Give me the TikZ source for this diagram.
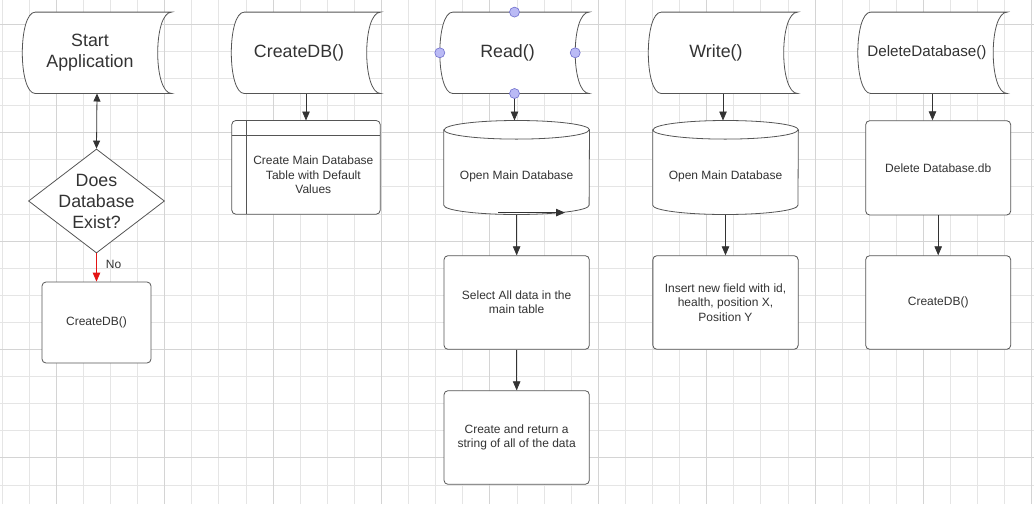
\documentclass[tikz,border=0pt]{standalone}
\usepackage{fontspec}
\setmainfont{Liberation Sans}
\usetikzlibrary{arrows.meta,shapes.geometric,calc}
\definecolor{lineC}{RGB}{85,85,85}
\definecolor{textC}{RGB}{51,51,51}
\definecolor{gridMinor}{RGB}{229,229,229}
\definecolor{gridMajor}{RGB}{212,212,212}
\definecolor{noRed}{RGB}{228,20,20}
\definecolor{handleFill}{RGB}{186,186,245}
\definecolor{handleDraw}{RGB}{110,110,205}
\pgfdeclarelayer{gridlayer}
\pgfdeclarelayer{shapelayer}
\pgfsetlayers{gridlayer,shapelayer,main}
\newcommand{\sdoutline}[1]{%
  \draw[sdline] ([xshift=13pt]#1.north west) -- ([xshift=14pt]#1.north east)
    .. controls ([xshift=-4.67pt]#1.north east) and ([xshift=-4.67pt]#1.south east) .. ([xshift=14pt]#1.south east)
    -- ([xshift=13pt]#1.south west)
    .. controls ([xshift=-4.33pt]#1.south west) and ([xshift=-4.33pt]#1.north west) .. cycle;%
}
\newcommand{\cyloutline}[1]{%
  \draw[sdline] ([yshift=9.3pt]#1.north west) -- ([yshift=9.3pt]#1.south west)
    arc[start angle=180, end angle=360, x radius=72.65pt, y radius=9.3pt]
    -- ([yshift=9.3pt]#1.north east)
    arc[start angle=0, end angle=180, x radius=72.65pt, y radius=9.3pt] -- cycle;
  \draw[sdline, fill=none] ([yshift=9.3pt]#1.north west)
    arc[start angle=180, end angle=360, x radius=72.65pt, y radius=9.3pt];%
}
\begin{document}
\begin{tikzpicture}[x=1pt,y=-1pt,
  bigfont/.style={font=\fontsize{17.8}{21}\selectfont, text=textC},
  midfont/.style={font=\fontsize{15.2}{18}\selectfont, text=textC},
  smallfont/.style={font=\fontsize{12}{14.3}\selectfont, text=textC},
  sdnode/.style={bigfont, inner sep=0pt, minimum width=135pt, minimum height=81pt, align=center},
  sdline/.style={draw=lineC, line width=0.8pt, fill=white},
  procbox/.style={smallfont, draw=lineC, line width=0.8pt, fill=white, rounded corners=4pt, inner sep=0pt, align=center},
  textregion/.style={smallfont, inner sep=0pt, align=center},
  decision/.style={diamond, draw=lineC, line width=0.8pt, fill=white, minimum width=136pt, minimum height=104pt, inner sep=0pt},
  conn/.style={draw=textC, line width=0.8pt, -{Triangle[length=9pt,width=7.5pt]}},
  dconn/.style={draw=textC, line width=0.8pt, {Triangle[length=8pt,width=7pt]}-{Triangle[length=8pt,width=7pt]}},
  redconn/.style={draw=noRed, line width=0.9pt, -{Triangle[length=9pt,width=7.5pt]}},
  handle/.style={circle, fill=handleFill, draw=handleDraw, line width=0.6pt, minimum size=10pt, inner sep=0pt},
  gminor/.style={draw=gridMinor, line width=0.8pt},
  gmajor/.style={draw=gridMajor, line width=0.8pt}
]
\useasboundingbox (0,0) rectangle (1034,504);
\begin{pgfonlayer}{gridlayer}
  \fill[white] (0,0) rectangle (1034,504);
  \foreach \k in {0,...,38} {\draw[gminor] ({2+27.1*\k},0) -- ({2+27.1*\k},504);}
  \foreach \k in {0,...,17} {\draw[gminor] (0,{24.2+27.1*\k}) -- (1034,{24.2+27.1*\k});}
  \foreach \x in {56.2,164.6,273,381.4,489.8,598.2,706.6,815,923.4,1031.8} {\draw[gmajor] (\x,0) -- (\x,504);}
  \foreach \y in {24.2,132.6,241,349.4,457.8} {\draw[gmajor] (0,\y) -- (1034,\y);}
\end{pgfonlayer}

% top row: stored-data shapes
\node[sdnode] (start) at (90,52.8) {Start\\Application};
\node[sdnode] (cdb) at (299,52.8) {CreateDB()};
\node[sdnode] (read) at (507.5,52.8) {Read()};
\node[sdnode] (write) at (716,52.8) {Write()};
\node[sdnode, midfont] (del) at (925.5,52.8) {\hspace*{3pt}DeleteDatabase()};
\coordinate (startB) at ([xshift=7pt]start.south);
\coordinate (cdbB) at ([xshift=7pt]cdb.south);
\coordinate (readB) at ([xshift=7pt]read.south);
\coordinate (writeB) at ([xshift=7pt]write.south);
\coordinate (delB) at ([xshift=7pt]del.south);
\begin{pgfonlayer}{shapelayer}
  \sdoutline{start}
  \sdoutline{cdb}
  \sdoutline{read}
  \sdoutline{write}
  \sdoutline{del}
\end{pgfonlayer}

% column 1
\node[decision] (q) at (96.5,201) {};
\node[bigfont, align=center, inner sep=0pt] (qt) at (q.center) {Does\\Database\\Exist?};
\node[procbox, minimum width=109pt, minimum height=81pt] (cdb1) at (96.5,322.5) {CreateDB()};
\draw[dconn] (startB) -- (q.north);
\draw[redconn] (q.south) -- (cdb1.north)
  node[pos=0.38, anchor=west, inner sep=0pt, xshift=9pt, smallfont] (nolabel) {No};

% column 2: internal storage
\node[textregion, minimum width=133.3pt, minimum height=78.3pt] (cdbt) at (313.35,174.85) {Create Main Database\\Table with Default\\Values};
\coordinate (cdbtTop) at ([yshift=15pt]cdbt.north);
\begin{pgfonlayer}{shapelayer}
  \draw[sdline, rounded corners=4pt] ([xshift=-14.7pt,yshift=15pt]cdbt.north west) rectangle (cdbt.south east);
  \draw[draw=lineC, line width=0.8pt] ([xshift=-14.7pt]cdbt.north west) -- (cdbt.north east);
  \draw[draw=lineC, line width=0.8pt] ([yshift=15pt]cdbt.north west) -- (cdbt.south west);
\end{pgfonlayer}
\draw[conn] (cdbB) -- (cdbB |- cdbtTop);

% column 3: Read
\node[textregion, minimum width=145.3pt, minimum height=75pt] (rdb) at (516.65,176.8) {Open Main Database};
\coordinate (rdbTop) at ([yshift=18.6pt]rdb.north);
\begin{pgfonlayer}{shapelayer}
  \cyloutline{rdb}
\end{pgfonlayer}
\node[procbox, minimum width=145.3pt, minimum height=93.6pt] (sel) at (516.65,302.5) {Select All data in the\\main table};
\node[procbox, minimum width=145.3pt, minimum height=93.6pt] (ret) at (516.65,437.5) {Create and return a\\string of all of the data};
\coordinate (rdbArrS) at (498,212.6);
\coordinate (rdbArrE) at (565,212.6);
\draw[conn] (readB) -- (readB |- rdbTop);
\draw[conn] (rdbArrS) -- (rdbArrE);
\draw[conn] (rdb.south) -- (sel.north);
\draw[conn] (sel.south) -- (ret.north);
\node[handle] (hT) at ([xshift=7pt]read.north) {};
\node[handle] (hL) at (read.west) {};
\node[handle] (hR) at (read.east) {};
\node[handle] (hB) at (readB) {};

% column 4: Write
\node[textregion, minimum width=145.3pt, minimum height=75pt] (wdb) at (725.5,176.8) {Open Main Database};
\coordinate (wdbTop) at ([yshift=18.6pt]wdb.north);
\begin{pgfonlayer}{shapelayer}
  \cyloutline{wdb}
\end{pgfonlayer}
\node[procbox, minimum width=145.3pt, minimum height=93.6pt] (ins) at (725.5,302.5) {Insert new field with id,\\health, position X,\\Position Y};
\draw[conn] (writeB) -- (writeB |- wdbTop);
\draw[conn] (wdb.south) -- (ins.north);

% column 5: Delete
\node[procbox, minimum width=145pt, minimum height=94.3pt] (delbox) at (938.2,167.85) {Delete Database.db};
\node[procbox, minimum width=145pt, minimum height=93.6pt] (cdb2) at (938.2,302.5) {CreateDB()};
\draw[conn] (delB) -- (delB |- delbox.north);
\draw[conn] (delbox.south) -- (cdb2.north);
\end{tikzpicture}
\end{document}
